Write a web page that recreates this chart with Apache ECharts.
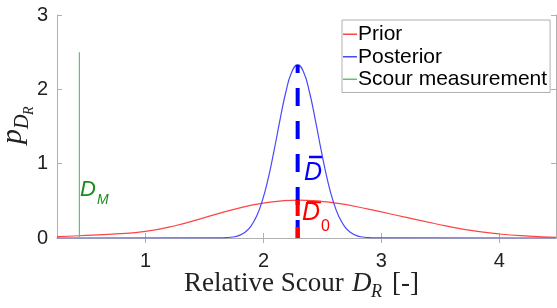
<!DOCTYPE html>
<html>
<head>
<meta charset="utf-8">
<script src="https://cdn.jsdelivr.net/npm/echarts@6/dist/echarts.min.js"></script>
<style>
  html, body { margin: 0; padding: 0; background: #fff; }
  #chart { width: 557px; height: 308px; }
</style>
</head>
<body>
<div id="chart"></div>
<script>
  // 先验分布
  var priorX = [0.25, 0.44, 0.75, 1.0, 1.25, 1.5, 1.75, 2.0, 2.3, 2.6, 2.9, 3.2, 3.45, 3.7, 4.0, 4.25, 4.48];
  var priorY = [0.018, 0.03, 0.055, 0.088, 0.165, 0.275, 0.385, 0.47, 0.51, 0.472, 0.385, 0.28, 0.195, 0.115, 0.054, 0.025, 0.01];
  // 后验分布
  var postX = [0.25, 1.59, 1.64, 1.69, 1.74, 1.79, 1.84, 1.89, 1.94, 1.99, 2.04, 2.09, 2.14, 2.19, 2.24, 2.29,
    2.34, 2.39, 2.44, 2.49, 2.54, 2.59, 2.64, 2.69, 2.74, 2.79, 2.84, 2.89, 2.94, 2.99, 4.48];
  var postY = [0, 0.0005, 0.0018, 0.0049, 0.0132, 0.0324, 0.073, 0.151, 0.287, 0.5, 0.8, 1.176, 1.586, 1.964, 2.233, 2.33,
    2.233, 1.964, 1.586, 1.176, 0.8, 0.5, 0.287, 0.151, 0.073, 0.0324, 0.0132, 0.0049, 0.0018, 0.0005, 0];
  // 冲刷测量值
  var measX = [0.44, 0.44];
  var measY = [0, 2.5];
  // 均值竖线
  var meanX = [2.29, 2.29];
  var postMeanY = [0, 2.33];
  var priorMeanY = [0, 0.51];
  var xTicks = [1, 2, 3, 4];

  function pairs(xs, ys) {
    return xs.map(function (x, i) { return [x, ys[i]]; });
  }

  var chart = echarts.init(document.getElementById('chart'));
  var axisColor = '#b0b0b0';
  var sans = "'Liberation Sans', Arial, sans-serif";
  var serif = "'Liberation Serif', 'Times New Roman', serif";
  var labelFont = { color: '#222', fontSize: 20, fontFamily: sans };

  chart.setOption({
    animation: false,
    grid: { left: 57, right: 1, top: 15, bottom: 70 },
    xAxis: [{
      type: 'value', min: 0.25, max: 4.48,
      axisLine: { lineStyle: { color: axisColor } },
      axisTick: { inside: true, length: 5, lineStyle: { color: axisColor }, customValues: xTicks },
      axisLabel: Object.assign({ margin: 13, customValues: xTicks }, labelFont),
      splitLine: { show: false }
    }, {
      type: 'value', min: 0.25, max: 4.48, position: 'top',
      axisLine: { lineStyle: { color: axisColor } },
      axisTick: { inside: true, length: 5, lineStyle: { color: axisColor }, customValues: xTicks },
      axisLabel: { show: false },
      splitLine: { show: false }
    }],
    yAxis: [{
      type: 'value', min: 0, max: 3, interval: 1,
      axisLine: { show: true, lineStyle: { color: axisColor } },
      axisTick: { show: true, inside: true, length: 5, lineStyle: { color: axisColor } },
      axisLabel: Object.assign({ margin: 9, padding: [4, 0, 0, 0] }, labelFont),
      splitLine: { show: false }
    }, {
      type: 'value', min: 0, max: 3, interval: 1, position: 'right',
      axisLine: { show: true, lineStyle: { color: axisColor } },
      axisTick: { show: true, inside: true, length: 5, lineStyle: { color: axisColor } },
      axisLabel: { show: false },
      splitLine: { show: false }
    }],
    legend: {
      orient: 'vertical',
      left: 342, top: 20,
      padding: [3, 3, 2, 1],
      itemGap: 0,
      itemWidth: 14, itemHeight: 1.5,
      backgroundColor: '#fff',
      borderColor: '#b0b0b0', borderWidth: 1,
      textStyle: { color: '#000', fontSize: 21, lineHeight: 22.5, fontFamily: sans, padding: [0, 0, 0, -4] },
      data: [
        { name: 'Prior', icon: 'rect' },
        { name: 'Posterior', icon: 'rect' },
        { name: 'Scour measurement', icon: 'rect' }
      ]
    },
    series: [{
      name: 'Prior', type: 'line', showSymbol: false, symbol: 'none', smooth: 0.5,
      lineStyle: { color: '#ff4444', width: 1.2 }, itemStyle: { color: '#ff4444' },
      data: pairs(priorX, priorY)
    }, {
      name: 'Posterior', type: 'line', showSymbol: false, symbol: 'none', smooth: 0.5,
      lineStyle: { color: '#4848ff', width: 1.2 }, itemStyle: { color: '#4848ff' },
      data: pairs(postX, postY)
    }, {
      name: 'Scour measurement', type: 'line', showSymbol: false, symbol: 'none',
      lineStyle: { color: '#5cc47a', width: 1.2 }, itemStyle: { color: '#5cc47a' },
      data: pairs(measX, measY)
    }, {
      name: 'postMean', type: 'line', showSymbol: false, symbol: 'none',
      lineStyle: { color: '#0000ff', width: 4, type: [18, 15], cap: 'butt' },
      data: pairs(meanX, postMeanY)
    }, {
      name: 'priorMean', type: 'line', showSymbol: false, symbol: 'none',
      lineStyle: { color: '#ff0000', width: 4, type: [17, 11], cap: 'butt', dashOffset: 6 },
      data: pairs(meanX, priorMeanY)
    }],
    graphic: [
      // y 轴标题 p_{D_R}
      {
        type: 'group', x: 28, y: 144, rotation: Math.PI / 2,
        children: [
          { type: 'text', x: 0, y: 0, style: { text: 'p', fill: '#222', font: 'italic 30px ' + serif, textVerticalAlign: 'bottom' } },
          { type: 'text', x: 15, y: 5, style: { text: 'D', fill: '#222', font: 'italic 20px ' + serif, textVerticalAlign: 'bottom' } },
          { type: 'text', x: 29, y: 8, style: { text: 'R', fill: '#222', font: 'italic 14px ' + serif, textVerticalAlign: 'bottom' } }
        ]
      },
      // x 轴标题
      { type: 'text', x: 184, y: 297, style: { text: 'Relative Scour', fill: '#222', font: '27px ' + serif, textVerticalAlign: 'bottom' } },
      { type: 'text', x: 352, y: 297, style: { text: 'D', fill: '#222', font: 'italic 27px ' + serif, textVerticalAlign: 'bottom' } },
      { type: 'text', x: 371, y: 301, style: { text: 'R', fill: '#222', font: 'italic 18px ' + serif, textVerticalAlign: 'bottom' } },
      { type: 'text', x: 392, y: 297, style: { text: '[-]', fill: '#222', font: '27px ' + serif, textVerticalAlign: 'bottom' } },
      // 后验均值标注
      { type: 'line', shape: { x1: 309, y1: 157, x2: 323, y2: 157 }, style: { stroke: '#0000ff', lineWidth: 2.5 } },
      { type: 'text', x: 304, y: 186, style: { text: 'D', fill: '#0000ff', font: 'italic 25px ' + sans, textVerticalAlign: 'bottom' } },
      // 先验均值标注
      { type: 'line', shape: { x1: 307, y1: 202, x2: 321, y2: 202 }, style: { stroke: '#ff0000', lineWidth: 2.5 } },
      { type: 'text', x: 302, y: 226, style: { text: 'D', fill: '#ff0000', font: 'italic 25px ' + sans, textVerticalAlign: 'bottom' } },
      { type: 'text', x: 321, y: 235, style: { text: '0', fill: '#ff0000', font: '16px ' + sans, textVerticalAlign: 'bottom' } },
      // 测量值标注
      { type: 'text', x: 80, y: 201, style: { text: 'D', fill: '#1a8c1a', font: 'italic 22px ' + sans, textVerticalAlign: 'bottom' } },
      { type: 'text', x: 97, y: 207, style: { text: 'M', fill: '#1a8c1a', font: 'italic 14px ' + sans, textVerticalAlign: 'bottom' } }
    ]
  });
</script>
</body>
</html>
